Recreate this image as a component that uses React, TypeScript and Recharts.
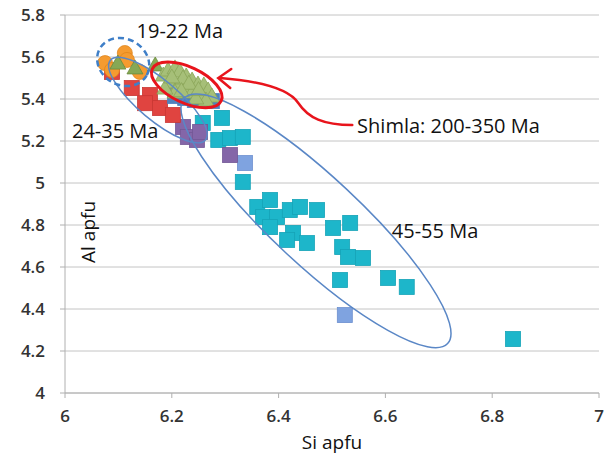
import { ScatterChart, Scatter, XAxis, YAxis, CartesianGrid } from 'recharts'

type Pt = { x: number; y: number }

const xTicks = [6, 6.2, 6.4, 6.6, 6.8, 7]
const yTicks = [4, 4.2, 4.4, 4.6, 4.8, 5, 5.2, 5.4, 5.6, 5.8]

// 45-55 Ma (cyan squares)
const cyanPts: Pt[] = [
  { x: 6.294, y: 5.31 }, { x: 6.258, y: 5.286 }, { x: 6.287, y: 5.205 }, { x: 6.309, y: 5.214 },
  { x: 6.333, y: 5.219 }, { x: 6.333, y: 5.005 }, { x: 6.36, y: 4.886 }, { x: 6.384, y: 4.919 },
  { x: 6.371, y: 4.838 }, { x: 6.397, y: 4.838 }, { x: 6.421, y: 4.871 }, { x: 6.44, y: 4.886 },
  { x: 6.472, y: 4.871 }, { x: 6.427, y: 4.762 }, { x: 6.453, y: 4.714 }, { x: 6.416, y: 4.729 },
  { x: 6.384, y: 4.79 }, { x: 6.502, y: 4.786 }, { x: 6.534, y: 4.81 }, { x: 6.519, y: 4.695 },
  { x: 6.53, y: 4.648 }, { x: 6.558, y: 4.643 }, { x: 6.515, y: 4.538 }, { x: 6.605, y: 4.548 },
  { x: 6.64, y: 4.505 }, { x: 6.839, y: 4.257 },
]
const lightBluePts: Pt[] = [{ x: 6.337, y: 5.095 }, { x: 6.524, y: 4.371 }]
const purplePts: Pt[] = [
  { x: 6.221, y: 5.267 }, { x: 6.23, y: 5.219 }, { x: 6.247, y: 5.205 }, { x: 6.253, y: 5.243 },
  { x: 6.309, y: 5.133 },
]
// 24-35 Ma
const redPts: Pt[] = [
  { x: 6.088, y: 5.529 }, { x: 6.125, y: 5.452 }, { x: 6.159, y: 5.419 }, { x: 6.178, y: 5.357 },
  { x: 6.202, y: 5.324 }, { x: 6.15, y: 5.38 },
]
// 19-22 Ma
const orangePts: Pt[] = [
  { x: 6.075, y: 5.571 }, { x: 6.112, y: 5.619 }, { x: 6.116, y: 5.586 }, { x: 6.088, y: 5.538 },
  { x: 6.14, y: 5.529 },
]
const greenPts: Pt[] = [{ x: 6.099, y: 5.571 }, { x: 6.131, y: 5.548 }, { x: 6.169, y: 5.562 }]
// Shimla
const shimlaBlue: Pt[] = [
  { x: 6.206, y: 5.414 }, { x: 6.225, y: 5.405 }, { x: 6.243, y: 5.395 }, { x: 6.262, y: 5.4 },
  { x: 6.275, y: 5.39 },
]
const shimlaGreen: Pt[] = [
  { x: 6.184, y: 5.514 }, { x: 6.193, y: 5.538 }, { x: 6.206, y: 5.548 }, { x: 6.215, y: 5.533 },
  { x: 6.227, y: 5.51 }, { x: 6.238, y: 5.49 }, { x: 6.249, y: 5.471 }, { x: 6.26, y: 5.467 },
  { x: 6.268, y: 5.443 }, { x: 6.275, y: 5.414 }, { x: 6.197, y: 5.481 }, { x: 6.212, y: 5.467 },
  { x: 6.225, y: 5.452 }, { x: 6.238, y: 5.433 }, { x: 6.253, y: 5.424 }, { x: 6.206, y: 5.433 },
  { x: 6.187, y: 5.452 }, { x: 6.264, y: 5.395 }, { x: 6.245, y: 5.405 }, { x: 6.221, y: 5.5 },
  { x: 6.2, y: 5.505 }, { x: 6.232, y: 5.475 }, { x: 6.218, y: 5.44 }, { x: 6.25, y: 5.445 },
]

// annotations (data coords)
const dashedCentre: Pt[] = [{ x: 6.109, y: 5.576 }]
const youngCentre: Pt[] = [{ x: 6.174, y: 5.395 }]
const oldCentre: Pt[] = [{ x: 6.47, y: 4.82 }]
const shimlaCentre: Pt[] = [{ x: 6.228, y: 5.467 }]
const arrowTip: Pt[] = [{ x: 6.287, y: 5.5 }]
const ageLabels = [
  { x: 6.215, y: 5.724, text: '19-22 Ma' },
  { x: 6.094, y: 5.252, text: '24-35 Ma' },
  { x: 6.693, y: 4.776, text: '45-55 Ma' },
]
const shimlaLabel = [{ x: 6.547, y: 5.276, text: 'Shimla: 200-350 Ma' }]
const alLabel = [{ x: 6.043, y: 4.767, text: 'Al apfu' }]

const FONT = '"Open Sans", sans-serif'

const square = (fill: string, stroke: string) => (p: any) => (
  <rect x={p.cx - 7.5} y={p.cy - 7.5} width={15} height={15} fill={fill} stroke={stroke} strokeWidth={0.8} />
)
const circle = (p: any) => <circle cx={p.cx} cy={p.cy} r={7.5} fill="#F59B30" stroke="#E0851C" strokeWidth={0.8} />
const triangle = (fill: string, stroke: string) => (p: any) => (
  <path d={`M${p.cx},${p.cy - 8} L${p.cx + 8},${p.cy + 6} L${p.cx - 8},${p.cy + 6} Z`} fill={fill} stroke={stroke} strokeWidth={0.8} />
)
const ellipse = (rx: number, ry: number, angle: number, stroke: string, width: number, dash?: string) => (p: any) => (
  <ellipse
    cx={p.cx}
    cy={p.cy}
    rx={rx}
    ry={ry}
    transform={`rotate(${angle} ${p.cx} ${p.cy})`}
    fill="none"
    stroke={stroke}
    strokeWidth={width}
    strokeDasharray={dash}
  />
)
const arrow = (p: any) => (
  <g fill="none" stroke="#E8141C" strokeWidth={2.5} strokeLinecap="round">
    <path d={`M${p.cx + 134},${p.cy + 47} C${p.cx + 105},${p.cy + 47} ${p.cx + 90},${p.cy + 40} ${p.cx + 80},${p.cy + 25} C${p.cx + 70},${p.cy + 10} ${p.cx + 40},${p.cy + 3} ${p.cx + 2},${p.cy}`} />
    <path d={`M${p.cx + 13},${p.cy - 9} L${p.cx},${p.cy} L${p.cx + 12},${p.cy + 10}`} />
  </g>
)
const label = (anchor: 'start' | 'middle', size: number, rotate = 0) => (p: any) => (
  <text
    x={p.cx}
    y={p.cy}
    textAnchor={anchor}
    dominantBaseline="central"
    fontFamily={FONT}
    fontSize={size}
    fill="#111"
    transform={rotate ? `rotate(${rotate} ${p.cx} ${p.cy})` : undefined}
  >
    {p.payload.text}
  </text>
)

const tick = { fontFamily: FONT, fontSize: 17, fontWeight: 600, fill: '#333' }

export default function App() {
  return (
    <div style={{ position: 'absolute', left: 0, top: 0, background: '#fff' }}>
      <ScatterChart width={616} height={455} margin={{ top: 15, right: 17, bottom: 0, left: 0 }}>
        <CartesianGrid horizontal vertical={false} stroke="#c4c4c4" />
        <XAxis
          type="number"
          dataKey="x"
          domain={[6, 7]}
          ticks={xTicks}
          height={62}
          tick={tick}
          tickSize={5}
          tickMargin={12}
          stroke="#b0b0b0"
          label={{ value: 'Si apfu', position: 'insideBottom', offset: 6, fontFamily: FONT, fontSize: 19, fill: '#111' }}
        />
        <YAxis
          type="number"
          dataKey="y"
          domain={[4, 5.8]}
          ticks={yTicks}
          width={65}
          tick={tick}
          tickSize={5}
          tickMargin={15}
          stroke="#b0b0b0"
        />
        <Scatter data={cyanPts} shape={square('#1DB6CA', '#16A3B7')} isAnimationActive={false} />
        <Scatter data={lightBluePts} shape={square('#7FA3E0', '#6D90CF')} isAnimationActive={false} />
        <Scatter data={purplePts} shape={square('#8466A8', '#735896')} isAnimationActive={false} />
        <Scatter data={redPts} shape={square('#E04440', '#C93733')} isAnimationActive={false} />
        <Scatter data={orangePts} shape={circle} isAnimationActive={false} />
        <Scatter data={greenPts} shape={triangle('#86A855', '#6A8A3C')} isAnimationActive={false} />
        <Scatter data={shimlaBlue} shape={square('#4F81BD', '#4F81BD')} isAnimationActive={false} />
        <Scatter data={shimlaGreen} shape={triangle('#A6BF78', '#8AA458')} isAnimationActive={false} />
        <Scatter data={oldCentre} shape={ellipse(180, 44, 43, '#5A87C6', 1.5)} isAnimationActive={false} />
        <Scatter data={youngCentre} shape={ellipse(62, 20, 40, '#5A87C6', 1.5)} isAnimationActive={false} />
        <Scatter data={dashedCentre} shape={ellipse(27, 23, 30, '#3F7FC8', 2.5, '6 4')} isAnimationActive={false} />
        <Scatter data={shimlaCentre} shape={ellipse(38, 18, 25, '#E8141C', 3)} isAnimationActive={false} />
        <Scatter data={arrowTip} shape={arrow} isAnimationActive={false} />
        <Scatter data={ageLabels} shape={label('middle', 20)} isAnimationActive={false} />
        <Scatter data={shimlaLabel} shape={label('start', 20)} isAnimationActive={false} />
        <Scatter data={alLabel} shape={label('middle', 19, -90)} isAnimationActive={false} />
      </ScatterChart>
    </div>
  )
}
